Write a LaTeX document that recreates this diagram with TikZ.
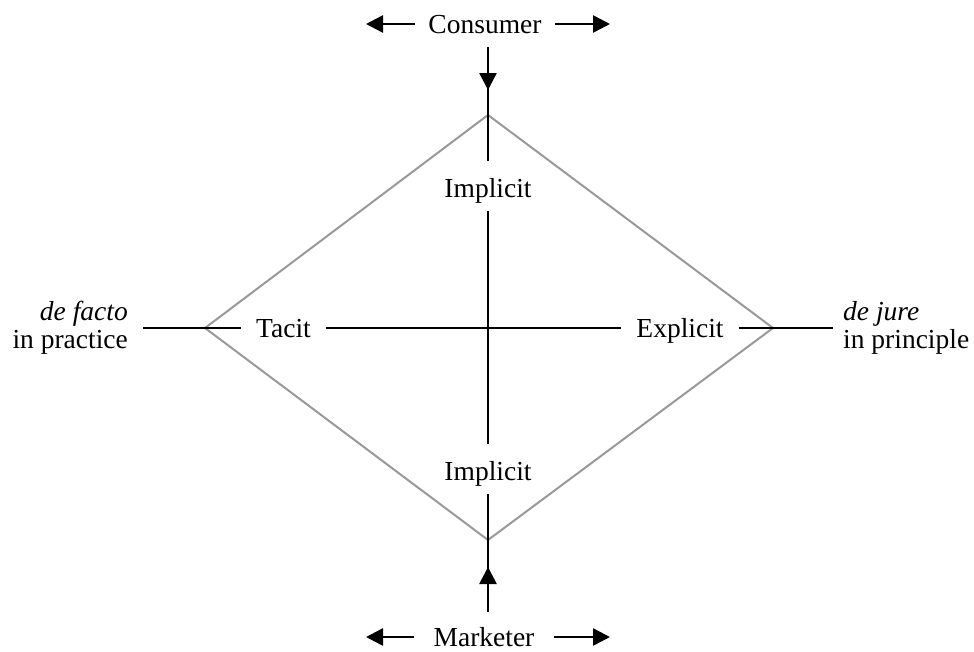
\documentclass[tikz,border=0pt]{standalone}
\usepackage{fontspec}
\setmainfont{Liberation Serif}
\usetikzlibrary{arrows.meta}
\begin{document}
\begin{tikzpicture}[x=1pt,y=-1pt,
  every node/.style={font=\fontsize{27.5}{28}\selectfont, inner sep=0pt},
  axis/.style={line width=2.6pt, draw=black},
  edge/.style={line width=2pt, draw=black!40},
  tip/.style={-{Triangle[length=17pt,width=17pt]}},
  hlabel/.style={text height=18pt, text depth=0pt, inner xsep=15pt},
  vlabel/.style={text height=36pt, text depth=14pt},
  endlabel/.style={text height=18pt, text depth=0pt, minimum width=140pt},
]
\useasboundingbox (0,0) rectangle (974,651);

% diamond
\coordinate (T) at (488,115);
\coordinate (B) at (488,540);
\coordinate (L) at (205,328);
\coordinate (R) at (773,328);
\draw[edge, line join=miter] (T) -- (R) -- (B) -- (L) -- cycle;

% top and bottom actors
\node[endlabel] (consumer) at (485,24) {Consumer};
\node[endlabel] (marketer) at (484,637) {Marketer};
\coordinate (cl) at (366,24);
\coordinate (cr) at (610,24);
\coordinate (ml) at (366,637);
\coordinate (mr) at (610,637);
\draw[axis,tip] (consumer.west) -- (cl);
\draw[axis,tip] (consumer.east) -- (cr);
\draw[axis,tip] (marketer.west) -- (ml);
\draw[axis,tip] (marketer.east) -- (mr);

% vertical axis
\node[vlabel, anchor=base] (itop) at (488,197) {Implicit};
\node[vlabel, anchor=base] (ibot) at (488,480) {Implicit};
\coordinate (cs) at (488,47);
\coordinate (ca) at (488,90);
\coordinate (ms) at (488,612);
\coordinate (ma) at (488,567);
\draw[axis] (cs) -- (itop.north);
\draw[axis,tip] (cs) -- (ca);
\draw[axis] (ms) -- (ibot.south);
\draw[axis,tip] (ms) -- (ma);
\draw[axis] (itop.south) -- (ibot.north);

% horizontal axis
\node[hlabel] (tacit) at (283.5,328) {Tacit};
\node[hlabel] (explicit) at (680,328) {Explicit};
\draw[axis] (tacit.east) -- (explicit.west);

\node[align=right, anchor=east, inner xsep=15pt] (facto) at (143,328) {\textit{de facto}\\in practice};
\node[align=left, anchor=west, inner xsep=10pt] (jure) at (833,328) {\textit{de jure}\\in principle};
\draw[axis] (facto.east |- L) -- (L) -- (tacit.west);
\draw[axis] (explicit.east) -- (R) -- (jure.west |- R);
\end{tikzpicture}
\end{document}
